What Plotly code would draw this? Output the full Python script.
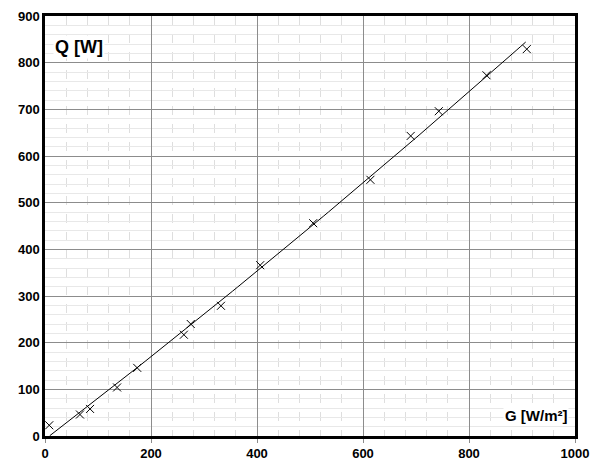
import numpy as np
import plotly.graph_objects as go

G = [8, 66, 85, 136, 174, 262, 275, 332, 406, 506, 614, 690, 743, 833, 909]
Q = [23, 46, 58, 104, 146, 217, 240, 279, 366, 456, 549, 643, 696, 773, 829]

xticks = [0, 200, 400, 600, 800, 1000]
yticks = [0, 100, 200, 300, 400, 500, 600, 700, 800, 900]

coef = np.polyfit(G, Q, 2)
xf = np.linspace(9, 907, 100)
yf = np.polyval(coef, xf)

fig = go.Figure()
fig.add_trace(go.Scatter(x=xf, y=yf, mode="lines", line=dict(color="black", width=1), showlegend=False))
fig.add_trace(go.Scatter(x=G, y=Q, mode="markers",
                         marker=dict(symbol="x-thin", size=8, line=dict(color="black", width=1)),
                         showlegend=False))

font = dict(family="Liberation Sans, Arial", size=13, color="black")
fig.update_layout(
    width=593, height=466,
    margin=dict(l=45, r=18, t=16, b=30),
    paper_bgcolor="white", plot_bgcolor="white",
    font=font,
    xaxis=dict(range=[0, 1000], tickvals=xticks, ticktext=[f"<b>{v}</b>" for v in xticks],
               automargin=False,
               showgrid=True, gridcolor="#8c8c8c", gridwidth=1,
               minor=dict(dtick=40, showgrid=True, gridcolor="#dedede", griddash="dash", gridwidth=1),
               showline=True, linecolor="black", linewidth=2.5, mirror=True,
               ticks="outside", ticklen=4, tickcolor="#8c8c8c", zeroline=False),
    yaxis=dict(range=[0, 900], tickvals=yticks, ticktext=[f"<b>{v}</b>" for v in yticks],
               automargin=False,
               showgrid=True, gridcolor="#8c8c8c", gridwidth=1,
               minor=dict(dtick=20, showgrid=True, gridcolor="#e8e8e8", gridwidth=1),
               showline=True, linecolor="black", linewidth=2.5, mirror=True,
               ticks="", zeroline=False),
    annotations=[
        dict(text="<b>Q [W]</b>", x=0.015, y=0.955, xref="paper", yref="paper",
             xanchor="left", yanchor="top", showarrow=False, bgcolor="white",
             font=dict(family="Liberation Sans, Arial", size=18, color="black")),
        dict(text="<b>G [W/m²]</b>", x=0.988, y=0.025, xref="paper", yref="paper",
             xanchor="right", yanchor="bottom", showarrow=False, bgcolor="white",
             font=dict(family="Liberation Sans, Arial", size=15, color="black")),
    ],
)
fig.write_html("out.html")
